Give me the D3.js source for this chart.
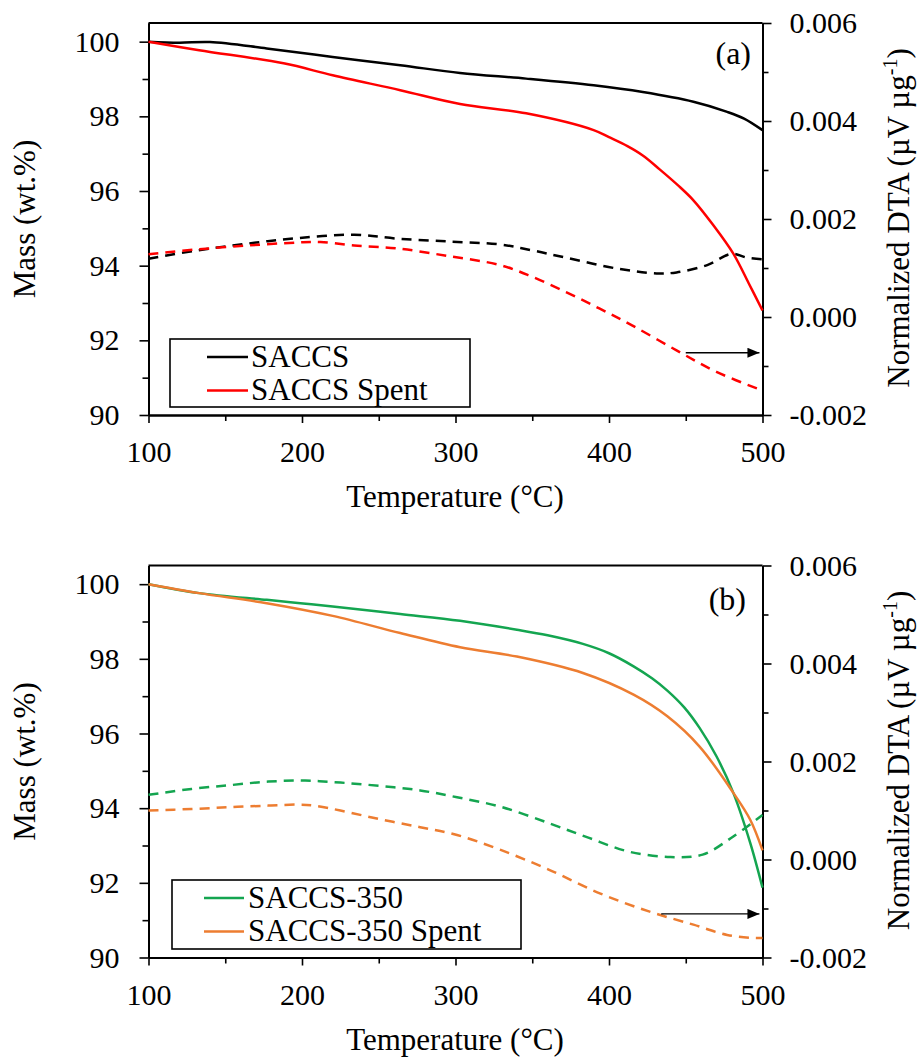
<!DOCTYPE html>
<html>
<head>
<meta charset="utf-8">
<script src="https://cdn.jsdelivr.net/npm/d3@7"></script>
<style>
  body { margin: 0; background: #fff; }
  text { font-family: "Liberation Serif", "Times New Roman", serif; fill: #000; }
</style>
</head>
<body>
<svg id="chart"></svg>
<script>
/* axis ticks */
const tempTicks = [100, 200, 300, 400, 500], tempMinor = [150, 250, 350, 450];
const massTicks = [90, 92, 94, 96, 98, 100], massMinor = [91, 93, 95, 97, 99];
const dtaTicks = [-0.002, 0, 0.002, 0.004, 0.006], dtaMinor = [-0.001, 0.001, 0.003, 0.005];

/* panel (a) : SACCS */
const tA_saccs = [100, 120, 140, 177, 220, 264, 303, 346, 390, 422, 455, 477, 488, 500];
const massA_saccs = [100, 99.97, 99.99, 99.82, 99.59, 99.37, 99.16, 99.01, 98.83, 98.65, 98.39, 98.12, 97.94, 97.63];
const tA_spent = [100, 133, 188, 220, 264, 303, 346, 390, 400, 412, 422, 433, 445, 455, 468, 481, 491, 500];
const massA_spent = [100, 99.77, 99.42, 99.10, 98.70, 98.33, 98.08, 97.63, 97.44, 97.20, 96.95, 96.58, 96.15, 95.75, 95.08, 94.32, 93.53, 92.80];
const tA_dtaSaccs = [100, 132, 165, 197, 234, 262, 296, 329, 350, 372, 405, 431, 444, 464, 480, 490, 500];
const dtaA_saccs = [0.00119, 0.00136, 0.0015, 0.00161, 0.00168, 0.0016, 0.00154, 0.00148, 0.00136, 0.00121, 0.00099, 0.00089, 0.00091, 0.00106, 0.00129, 0.00121, 0.00118];
const tA_dtaSpent = [100, 132, 165, 197, 212, 234, 262, 296, 329, 350, 372, 394, 415, 444, 470, 500];
const dtaA_spent = [0.00128, 0.00138, 0.00146, 0.00152, 0.00153, 0.00146, 0.0014, 0.00124, 0.00106, 0.00082, 0.00051, 0.00017, -0.00017, -0.00068, -0.00112, -0.0015];
const arrowA_t = [450, 498], arrowA_d = -0.00073;

/* panel (b) : SACCS-350 */
const tB_350 = [100, 133, 177, 199, 220, 264, 303, 340, 360, 383, 400, 416, 428, 438, 449, 459, 470, 481, 492, 500];
const massB_350 = [100, 99.76, 99.58, 99.49, 99.40, 99.20, 99.02, 98.78, 98.63, 98.40, 98.15, 97.80, 97.48, 97.15, 96.70, 96.15, 95.39, 94.41, 93.07, 91.87];
const tB_spent = [100, 133, 177, 220, 264, 303, 340, 383, 416, 438, 459, 481, 492, 500];
const massB_spent = [100, 99.76, 99.49, 99.15, 98.69, 98.31, 98.06, 97.62, 97.04, 96.46, 95.65, 94.41, 93.69, 92.87];
const tB_dta350 = [100, 128, 154, 178, 202, 225, 251, 277, 301, 329, 361, 387, 413, 440, 461, 481, 500];
const dtaB_350 = [0.00132, 0.00144, 0.00152, 0.00159, 0.00161, 0.00157, 0.0015, 0.00141, 0.00127, 0.00108, 0.00074, 0.00044, 0.00016, 0.00005, 0.0001, 0.00047, 0.00091];
const tB_dtaSpent = [100, 128, 154, 178, 197, 208, 225, 251, 277, 301, 329, 361, 394, 426, 455, 477, 494, 500];
const dtaB_spent = [0.001, 0.00103, 0.00107, 0.0011, 0.00112, 0.0011, 0.001, 0.00082, 0.00066, 0.0005, 0.0002, -0.00021, -0.00069, -0.00106, -0.00133, -0.00154, -0.0016, -0.0016];
const arrowB_t = [434, 498], arrowB_d = -0.00111;

const width = 920, height = 1057, plotH = 392;
const svg = d3.select('#chart').attr('width', width).attr('height', height);
svg.append('rect').attr('width', width).attr('height', height).attr('fill', '#fff');

/* arrow head */
svg.append('defs').append('marker').attr('id', 'head')
  .attr('markerUnits', 'userSpaceOnUse').attr('markerWidth', 13).attr('markerHeight', 11)
  .attr('refX', 12).attr('refY', 5).attr('orient', 'auto')
  .append('path').attr('d', 'M0,0 L12,5 L0,10 Z').attr('fill', '#000');

const zip = (ts, vs) => ts.map((t, i) => [t, vs[i]]);

const panels = [
  { top: 23, label: '(a)', labelX: 751, labelY: 64,
    series: [
      { name: 'SACCS', color: '#000000', mass: zip(tA_saccs, massA_saccs), dta: zip(tA_dtaSaccs, dtaA_saccs) },
      { name: 'SACCS Spent', color: '#ff0000', mass: zip(tA_spent, massA_spent), dta: zip(tA_dtaSpent, dtaA_spent) }],
    arrow: { t: arrowA_t, d: arrowA_d },
    legend: { x: 170, y: 316, w: 300, h: 68, lineX: 207, lineW: 41, textX: 251 } },
  { top: 565.5, label: '(b)', labelX: 746, labelY: 610,
    series: [
      { name: 'SACCS-350', color: '#14a550', mass: zip(tB_350, massB_350), dta: zip(tB_dta350, dtaB_350) },
      { name: 'SACCS-350 Spent', color: '#ed7d31', mass: zip(tB_spent, massB_spent), dta: zip(tB_dtaSpent, dtaB_spent) }],
    arrow: { t: arrowB_t, d: arrowB_d },
    legend: { x: 172, y: 314.5, w: 349, h: 69, lineX: 204, lineW: 40, textX: 248 } }
];

panels.forEach(drawPanel);

/*draw one panel */
function drawPanel(p) {
  const g = svg.append('g').attr('transform', `translate(0,${p.top})`);
  const x = d3.scaleLinear().domain([100, 500]).range([148.5, 762.5]);
  const yM = d3.scaleLinear().domain([90, 100.5]).range([plotH, 0]);
  const yD = d3.scaleLinear().domain([-0.002, 0.006]).range([plotH, 0]);

  /* top frame */
  g.append('line').attr('x1', x(100)).attr('x2', x(500)).attr('y1', 0).attr('y2', 0)
    .attr('stroke', '#000').attr('stroke-width', 2);

  const style = (sel) => {
    sel.selectAll('path.domain').attr('stroke-width', 2);
    sel.selectAll('.tick line').attr('stroke-width', 1.6);
    sel.selectAll('text').attr('font-size', 30).attr('fill', '#000');
    sel.attr('font-family', null).attr('font-size', null);
  };

  /* x axis */
  g.append('g').attr('transform', `translate(0,${plotH})`)
    .call(d3.axisBottom(x).tickValues(tempMinor).tickSize(6).tickFormat('').tickSizeOuter(0)).call(style);
  g.append('g').attr('transform', `translate(0,${plotH})`)
    .call(d3.axisBottom(x).tickValues(tempTicks).tickSize(8).tickPadding(18).tickSizeOuter(0)).call(style);

  /* left axis */
  g.append('g').attr('transform', `translate(${x(100)},0)`)
    .call(d3.axisLeft(yM).tickValues(massMinor).tickSize(6).tickFormat('').tickSizeOuter(0)).call(style);
  g.append('g').attr('transform', `translate(${x(100)},0)`)
    .call(d3.axisLeft(yM).tickValues(massTicks).tickSize(9).tickPadding(20).tickSizeOuter(0)).call(style);

  /* right axis */
  g.append('g').attr('transform', `translate(${x(500)},0)`)
    .call(d3.axisRight(yD).tickValues(dtaMinor).tickSize(6).tickFormat('').tickSizeOuter(0)).call(style);
  g.append('g').attr('transform', `translate(${x(500)},0)`)
    .call(d3.axisRight(yD).tickValues(dtaTicks).tickSize(9).tickPadding(18).tickSizeOuter(0)
      .tickFormat(d => d.toFixed(3))).call(style);

  /* curves */
  const massLine = d3.line().x(d => x(d[0])).y(d => yM(d[1])).curve(d3.curveCatmullRom.alpha(0.5));
  const dtaLine = d3.line().x(d => x(d[0])).y(d => yD(d[1])).curve(d3.curveCatmullRom.alpha(0.5));
  p.series.forEach(s => {
    g.append('path').attr('d', dtaLine(s.dta)).attr('fill', 'none').attr('stroke', s.color)
      .attr('stroke-width', 2.5).attr('stroke-dasharray', '10,7');
  });
  p.series.forEach(s => {
    g.append('path').attr('d', massLine(s.mass)).attr('fill', 'none').attr('stroke', s.color)
      .attr('stroke-width', 2.5);
  });

  /* arrow to right axis */
  g.append('line').attr('x1', x(p.arrow.t[0])).attr('x2', x(p.arrow.t[1]))
    .attr('y1', yD(p.arrow.d)).attr('y2', yD(p.arrow.d))
    .attr('stroke', '#000').attr('stroke-width', 1.3).attr('marker-end', 'url(#head)');

  /* legend */
  const L = p.legend;
  g.append('rect').attr('x', L.x).attr('y', L.y).attr('width', L.w).attr('height', L.h)
    .attr('fill', '#fff').attr('stroke', '#000').attr('stroke-width', 1.6);
  p.series.forEach((s, i) => {
    const cy = L.y + 18 + i * 33.5;
    g.append('line').attr('x1', L.lineX).attr('x2', L.lineX + L.lineW).attr('y1', cy).attr('y2', cy)
      .attr('stroke', s.color).attr('stroke-width', 2.5);
    g.append('text').attr('x', L.textX).attr('y', cy + 9.5).attr('font-size', 31).text(s.name);
  });

  /* panel label */
  g.append('text').attr('x', p.labelX).attr('y', p.labelY - p.top).attr('text-anchor', 'end')
    .attr('font-size', 32).text(p.label);

  /* axis titles */
  g.append('text').attr('x', 455).attr('y', plotH + 92).attr('text-anchor', 'middle')
    .attr('font-size', 31).text('Temperature (°C)');
  g.append('text').attr('transform', `translate(35,${plotH / 2}) rotate(-90)`)
    .attr('text-anchor', 'middle').attr('font-size', 31).text('Mass (wt.%)');
  const rt = g.append('text').attr('transform', `translate(909,${plotH / 2 - 1}) rotate(-90)`)
    .attr('text-anchor', 'middle').attr('font-size', 31);
  rt.append('tspan').text('Normalized DTA (µV µg');
  rt.append('tspan').attr('font-size', 20).attr('dy', -12).text('-1');
  rt.append('tspan').attr('dy', 12).text(')');
}
</script>
</body>
</html>
